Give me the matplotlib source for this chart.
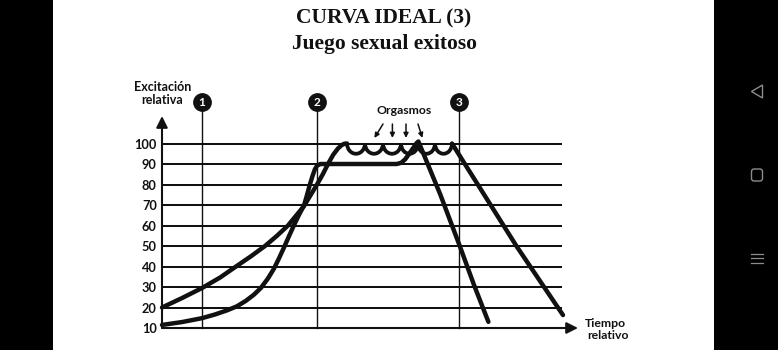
import matplotlib
matplotlib.use("Agg")
import matplotlib.pyplot as plt
from matplotlib.patches import Rectangle, Arc, Polygon, FancyBboxPatch

# ---------------- data ----------------
title_lines = ["CURVA IDEAL (3)", "Juego sexual exitoso"]
y_levels = [10, 20, 30, 40, 50, 60, 70, 80, 90, 100]
x_grid_end = 100
phase_x = [10, 38.75, 74.25]
phase_labels = ["1", "2", "3"]

# curve A (starts at 20, plateau of multiple orgasms)
a_rise_x = [0, 5, 10, 14.5, 18.5, 22.25, 25.75, 28.75, 31.5, 33.6, 35.5,
            37.2, 38.75, 40.2, 41.5, 42.8, 44, 44.9, 45.6, 46.25]
a_rise_y = [20, 24.6, 29.5, 34.6, 40, 45, 50, 55, 60, 65, 69.5,
            75, 80, 85, 90, 94.5, 97.6, 99.2, 99.9, 100]
a_cusps_x = [46.25, 50.75, 55.25, 59.75, 64, 68.25, 72.5]
a_scallop_depth = 5
a_fall_x = [72.5, 88.6, 100.25]
a_fall_y = [100, 50, 16.3]

# curve B (starts at 10, plateau at 90, single peak)
b_x = [0, 5, 10, 13.25, 16.25, 18.75, 21, 23, 24.75, 26.5, 28, 29.25, 30.5,
       31.75, 33, 34.25, 35.5, 36.2, 36.9, 37.6, 38.2, 38.8, 39.6,
       58.7, 59.8, 60.8, 61.8, 62.8, 63.6, 64.1, 69.6, 74.5, 78.0, 79.4, 80.5, 81.6]
b_y = [11.5, 12.9, 14.8, 16.6, 18.6, 20.6, 23.3, 26.3, 29.6, 34.2, 39, 44, 49.3,
       54.8, 60.2, 65.2, 69.8, 74.5, 79.5, 84, 87.3, 89.3, 90,
       90, 90.6, 92.3, 95, 97.8, 100.1, 101, 75, 49.7, 31, 24, 18.5, 13]

orgasm_label = "Orgasmos"
orgasm_tails = [(55.25, 109.5), (57.6, 109.5), (61.0, 109.5), (64.0, 109.5)]
orgasm_heads = [(53.1, 102.7), (57.6, 102.7), (61.0, 102.7), (65.1, 102.7)]

y_label = ["Excitación", "relativa"]
x_label = ["Tiempo", "relativo"]

# ---------------- figure ----------------
W, H = 778, 350
fig = plt.figure(figsize=(W / 100, H / 100), dpi=100)
fig.patch.set_facecolor("white")

# phone frame (background, pixel coordinates)
bg = fig.add_axes([0, 0, 1, 1])
bg.set_xlim(0, W)
bg.set_ylim(H, 0)
bg.axis("off")
bg.add_patch(Rectangle((0, 0), 53, H, color="black", lw=0))
bg.add_patch(Rectangle((714, 0), W - 714, H, color="black", lw=0))
icon_c = "#8c8c8c"
bg.add_patch(Polygon([(762.5, 85), (751.5, 91.5), (762.5, 98)], closed=True,
                     fill=False, ec=icon_c, lw=1.0))
bg.add_patch(FancyBboxPatch((751.5, 169), 11, 12,
                            boxstyle="round,pad=0,rounding_size=2.5",
                            fill=False, ec=icon_c, lw=1.0))
for yy in (253.5, 258, 262.5):
    bg.plot([751, 763], [yy, yy], color=icon_c, lw=0.9)

# chart axes: x_px = 162 + 4*x ; y_px = 328 - 2.05*(v-10)
ax = fig.add_axes([0, 0, 1, 1], facecolor="none")
ax.set_xlim(-40.5, 154)
ax.set_ylim(-0.73, 170)
ax.axis("off")

ink = "#111111"
lab_font = "Lato"

# horizontal grid
for v in y_levels:
    ax.plot([0, x_grid_end], [v, v], color=ink, lw=1.45, zorder=1,
            solid_capstyle="butt")
    ax.text(-1.3, v, str(v), ha="right", va="center_baseline", fontsize=9.2,
            fontweight="bold", family=lab_font, color=ink)

# axes arrows
ax.annotate("", xy=(0, 113.4), xytext=(0, 10),
            arrowprops=dict(arrowstyle="-|>", lw=1.5, color=ink,
                            mutation_scale=17, shrinkA=0, shrinkB=0), zorder=2)
ax.annotate("", xy=(104, 10), xytext=(0, 10),
            arrowprops=dict(arrowstyle="-|>", lw=1.5, color=ink,
                            mutation_scale=17, shrinkA=0, shrinkB=0), zorder=2)

# phase markers
for xp, lab in zip(phase_x, phase_labels):
    ax.plot([xp, xp], [10, 120.4], color=ink, lw=1.0, zorder=2)
    ax.plot([xp], [120.4], marker="o", markersize=12.5, color=ink, zorder=4)
    ax.text(xp, 120.2, lab, ha="center", va="center", color="white",
            fontsize=8.5, fontweight="bold", family=lab_font, zorder=5)

# curves
clw = 3.2
ax.plot(a_rise_x, a_rise_y, color=ink, lw=clw, zorder=3,
        solid_joinstyle="round", solid_capstyle="round")
for c0, c1 in zip(a_cusps_x[:-1], a_cusps_x[1:]):
    ax.add_patch(Arc(((c0 + c1) / 2, 100), c1 - c0, 2 * a_scallop_depth,
                     theta1=180, theta2=360, color=ink, lw=clw * 0.85, zorder=3))
ax.plot(a_fall_x, a_fall_y, color=ink, lw=clw, zorder=3,
        solid_joinstyle="round", solid_capstyle="round")
ax.plot(b_x, b_y, color=ink, lw=clw, zorder=3,
        solid_joinstyle="round", solid_capstyle="round")

# orgasm arrows
ax.text(60.6, 116.0, orgasm_label, ha="center", va="center", fontsize=8.8,
        fontweight="bold", family=lab_font, color=ink)
for t, h in zip(orgasm_tails, orgasm_heads):
    ax.annotate("", xy=h, xytext=t,
                arrowprops=dict(arrowstyle="-|>", lw=1.1, color=ink,
                                mutation_scale=7, shrinkA=0, shrinkB=0))

# axis labels
ax.text(0.1, 127.6, y_label[0], ha="center", va="center", fontsize=9,
        fontweight="bold", family=lab_font, color=ink)
ax.text(0.0, 121.2, y_label[1], ha="center", va="center", fontsize=9,
        fontweight="bold", family=lab_font, color=ink)
ax.text(105.8, 12.4, x_label[0], ha="left", va="center", fontsize=8.8,
        fontweight="bold", family=lab_font, color=ink)
ax.text(106.2, 6.4, x_label[1], ha="left", va="center", fontsize=8.8,
        fontweight="bold", family=lab_font, color=ink)

# titles
fig.text(384 / W, 1 - 18.5 / H, title_lines[0], ha="center", va="center",
         fontsize=15.5, fontweight="bold", family="Liberation Serif", color=ink)
fig.text(384 / W, 1 - 44 / H, title_lines[1], ha="center", va="center",
         fontsize=15.5, fontweight="bold", family="Liberation Serif", color=ink)

fig.savefig("out.png", dpi=100, facecolor="white")
